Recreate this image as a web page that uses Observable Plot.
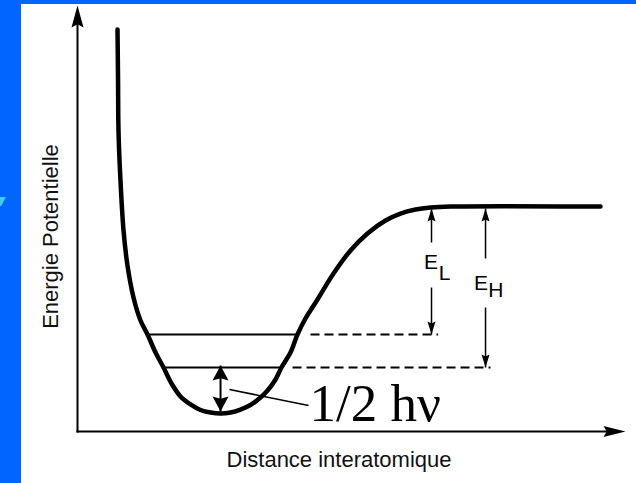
<!DOCTYPE html>
<html><head><meta charset="utf-8">
<script src="https://cdn.jsdelivr.net/npm/d3@7"></script>
<script src="https://cdn.jsdelivr.net/npm/@observablehq/plot@0.6"></script>
<style>
html,body{margin:0;padding:0;background:#0066ff;width:636px;height:483px;overflow:hidden;}
#chart{position:absolute;left:21px;top:4px;width:615px;height:479px;background:#fff;}
#bullet{position:absolute;left:0;top:197px;width:6px;height:9px;background:#40c8ff;clip-path:polygon(0 0,100% 0,20% 100%,0 100%);}
</style></head><body><div id="bullet"></div><div id="chart"></div>
<script>
// Potential energy curve (distance, energy)
const distance = [0.365, 0.370, 0.374, 0.392, 0.420, 0.456, 0.511, 0.575, 0.639, 0.712, 0.785, 0.858, 0.940, 1.031, 1.122, 1.214, 1.305, 1.396, 1.487, 1.578, 1.670, 1.734, 1.807, 1.861, 1.943, 2.007, 2.080, 2.190, 2.336, 2.491, 2.646, 2.810, 2.947, 3.084, 3.221, 3.403, 4.772];
const energy   = [9.437, 8.239, 7.066, 5.892, 4.718, 3.897, 3.146, 2.606, 2.277, 1.854, 1.502, 1.127, 0.822, 0.634, 0.505, 0.446, 0.423, 0.446, 0.516, 0.622, 0.798, 0.962, 1.221, 1.502, 1.854, 2.277, 2.653, 3.100, 3.709, 4.249, 4.648, 4.953, 5.117, 5.211, 5.258, 5.282, 5.282];

// zero-point levels: L (upper), H (lower)
const levelNames = ["L", "H"];
const levelEnergy = [2.277, 1.502];
const levelSolidStart = [0.639, 0.785];
const levelSolidEnd = [2.007, 1.852];
const levelDashStart = [2.126, 1.962];
const levelDashEnd = [3.290, 3.768];

// dissociation-energy arrows E_L, E_H
const arrowX = [3.230, 3.723];
const plateauEnergy = 5.235;
const arrowTopFrom = [4.437, 4.061];
const arrowBottomFrom = [3.380, 2.911];
const labelMainX = [3.225, 3.682];
const labelMainY = [3.803, 3.310];
const labelSubX = [3.349, 3.818];
const labelSubY = [3.568, 3.146];

// zero-point energy arrow and leader
const zpeX = 1.305;
const zpeTop = 1.549;
const zpeBottom = 0.469;
const leaderFrom = [1.387, 0.986];
const leaderTo = [2.108, 0.610];
const zpeText = "1/2 h\u03bd";
const zpeTextPos = [2.117, 0.258];

// axes
const xMax = 5, yMax = 10;
const xTitle = "Distance interatomique";
const yTitle = "Energie Potentielle";
const xTitlePos = [2.386, -0.845];
const yTitlePos = [-0.182, 4.577];

const curve = distance.map((d, i) => ({x: d, y: energy[i]}));
const levels = levelNames.map((n, i) => ({n, y: levelEnergy[i], s1: levelSolidStart[i], s2: levelSolidEnd[i], d1: levelDashStart[i], d2: levelDashEnd[i]}));
const shafts = [];
const headsUp = [], headsDown = [];
arrowX.forEach((x, i) => {
  shafts.push({x1: x, y1: arrowTopFrom[i], x2: x, y2: plateauEnergy});
  shafts.push({x1: x, y1: arrowBottomFrom[i], x2: x, y2: levelEnergy[i]});
  headsUp.push({x, y: plateauEnergy});
  headsDown.push({x, y: levelEnergy[i]});
});
const labels = levelNames.map((n, i) => ({mx: labelMainX[i], my: labelMainY[i], sx: labelSubX[i], sy: labelSubY[i], sub: n}));

function head(dx, dy, w, len) {
  const px = -dy, py = dx;
  return {draw(ctx) {
    ctx.moveTo(0, 0);
    ctx.lineTo(-dx * len + px * w / 2, -dy * len + py * w / 2);
    ctx.lineTo(-dx * len * 0.85, -dy * len * 0.85);
    ctx.lineTo(-dx * len - px * w / 2, -dy * len - py * w / 2);
    ctx.closePath();
  }};
}
const sans = "'Liberation Sans', Arial, Helvetica, sans-serif";

const chart = Plot.plot({
  width: 615, height: 479,
  marginLeft: 56, marginRight: 11, marginTop: 1, marginBottom: 52,
  x: {domain: [0, xMax], axis: null},
  y: {domain: [0, yMax], axis: null},
  style: {background: "white", overflow: "visible"},
  marks: [
    // axes
    Plot.link([{x1: 0, y1: 0, x2: 0, y2: yMax - 0.2}], {x1: "x1", y1: "y1", x2: "x2", y2: "y2", stroke: "black", strokeWidth: 2, strokeLinecap: "square"}),
    Plot.link([{x1: 0, y1: 0, x2: xMax - 0.1, y2: 0}], {x1: "x1", y1: "y1", x2: "x2", y2: "y2", stroke: "black", strokeWidth: 2.2, strokeLinecap: "square"}),
    Plot.dot([{x: 0, y: yMax}], {x: "x", y: "y", symbol: head(0, -1, 12, 22), fill: "black", stroke: "none"}),
    Plot.dot([{x: xMax, y: 0}], {x: "x", y: "y", symbol: head(1, 0, 11, 22), fill: "black", stroke: "none"}),
    // levels
    Plot.link(levels, {x1: "s1", x2: "s2", y1: "y", y2: "y", stroke: "black", strokeWidth: 1.8}),
    Plot.link(levels, {x1: "d1", x2: "d2", y1: "y", y2: "y", stroke: "black", strokeWidth: 1.8, strokeDasharray: "9,5"}),
    // curve
    Plot.line(curve, {x: "x", y: "y", curve: "catmull-rom", stroke: "black", strokeWidth: 4.5, strokeLinejoin: "round", strokeLinecap: "round"}),
    // dissociation arrows
    Plot.link(shafts, {x1: "x1", y1: "y1", x2: "x2", y2: "y2", stroke: "black", strokeWidth: 1.5}),
    Plot.dot(headsUp, {x: "x", y: "y", symbol: head(0, -1, 8, 13), fill: "black", stroke: "none"}),
    Plot.dot(headsDown, {x: "x", y: "y", symbol: head(0, 1, 8, 13), fill: "black", stroke: "none"}),
    Plot.text(labels, {x: "mx", y: "my", text: () => "E", fontFamily: sans, fontSize: 21, textAnchor: "middle", lineAnchor: "bottom", fill: "black"}),
    Plot.text(labels, {x: "sx", y: "sy", text: "sub", fontFamily: sans, fontSize: 21, textAnchor: "middle", lineAnchor: "bottom", fill: "black"}),
    // zero point energy
    Plot.link([{x1: zpeX, y1: zpeTop, x2: zpeX, y2: zpeBottom}], {x1: "x1", y1: "y1", x2: "x2", y2: "y2", stroke: "black", strokeWidth: 2}),
    Plot.dot([{x: zpeX, y: zpeTop}], {x: "x", y: "y", symbol: head(0, -1, 16, 15), fill: "black", stroke: "none"}),
    Plot.dot([{x: zpeX, y: zpeBottom}], {x: "x", y: "y", symbol: head(0, 1, 16, 15), fill: "black", stroke: "none"}),
    Plot.link([{x1: leaderFrom[0], y1: leaderFrom[1], x2: leaderTo[0], y2: leaderTo[1]}], {x1: "x1", y1: "y1", x2: "x2", y2: "y2", stroke: "black", strokeWidth: 1.6}),
    Plot.text([{x: zpeTextPos[0], y: zpeTextPos[1], t: zpeText}], {x: "x", y: "y", text: "t", fontFamily: "'Liberation Serif', 'Times New Roman', serif", fontSize: 53, textAnchor: "start", lineAnchor: "bottom", fill: "black"}),
    // axis titles
    Plot.text([{x: xTitlePos[0], y: xTitlePos[1], t: xTitle}], {x: "x", y: "y", text: "t", fontFamily: sans, fontSize: 22, textAnchor: "middle", lineAnchor: "bottom", fill: "#111"}),
    Plot.text([{x: yTitlePos[0], y: yTitlePos[1], t: yTitle}], {x: "x", y: "y", text: "t", rotate: -90, fontFamily: sans, fontSize: 22, textAnchor: "middle", lineAnchor: "bottom", fill: "#111"})
  ]
});
document.getElementById("chart").appendChild(chart);
</script></body></html>
